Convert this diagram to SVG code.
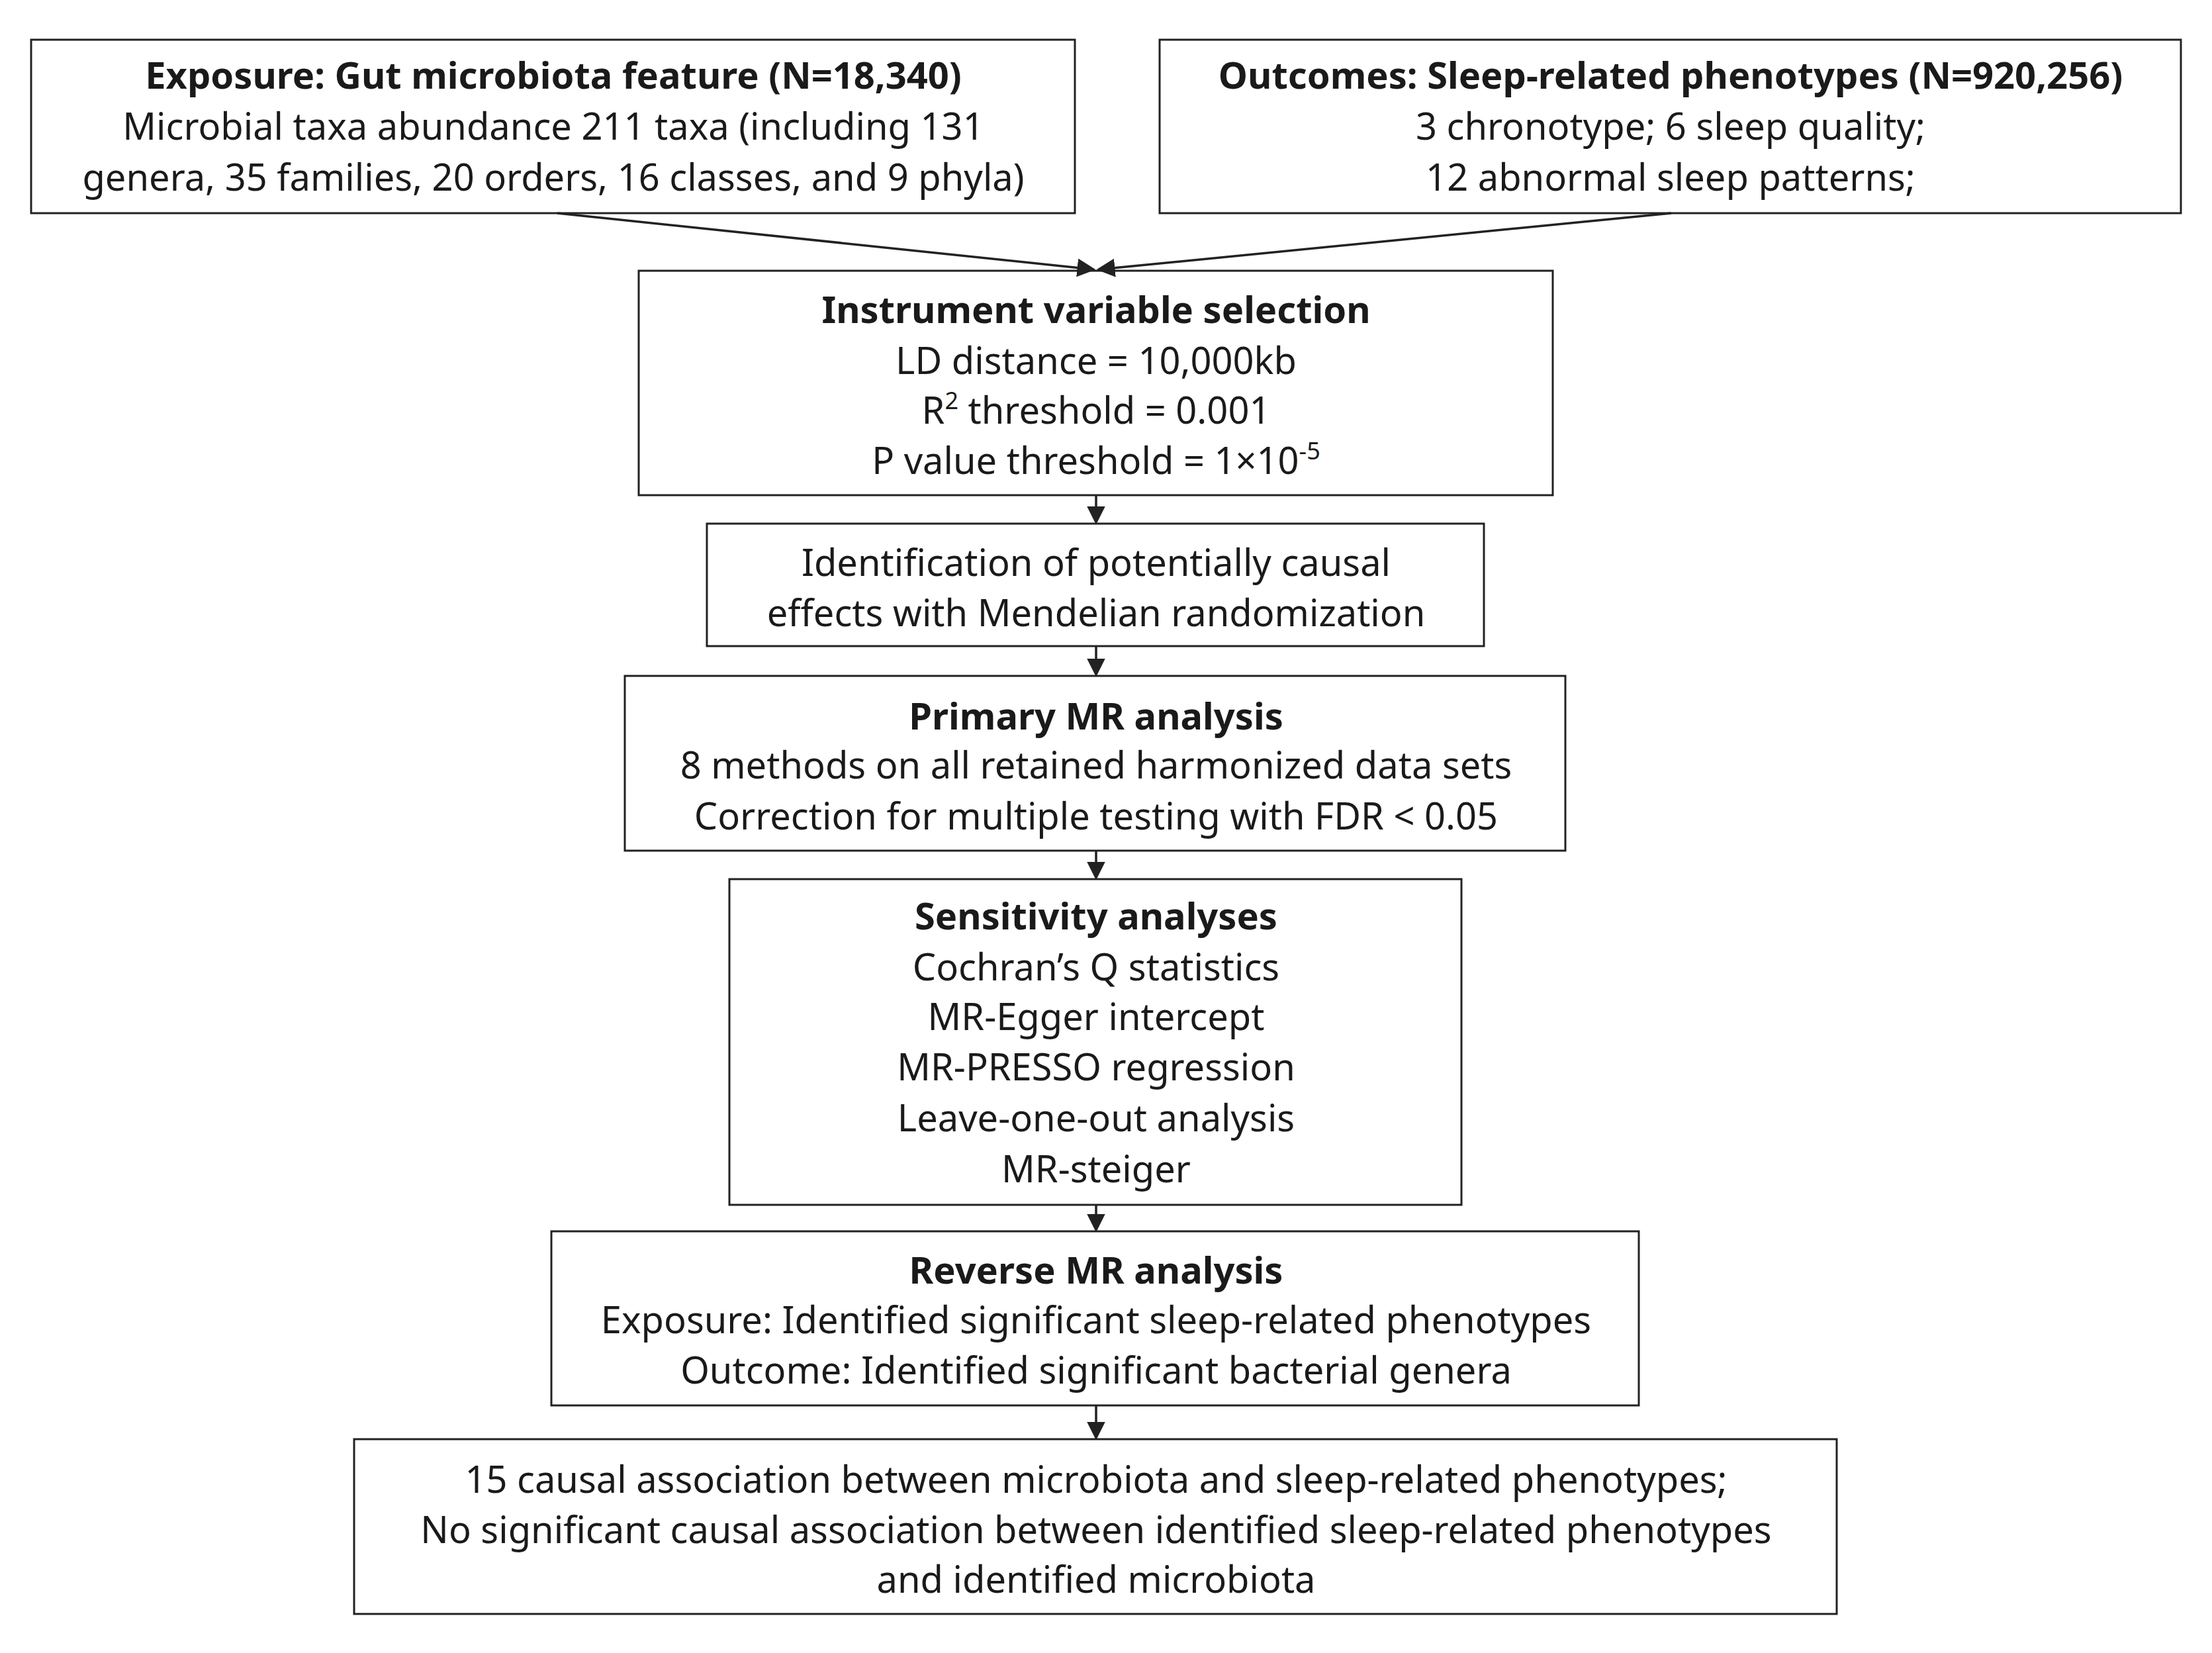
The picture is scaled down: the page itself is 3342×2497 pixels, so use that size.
<svg xmlns="http://www.w3.org/2000/svg" width="3342" height="2497" viewBox="0 0 3342 2497">
<style>
rect{fill:#fff;stroke:#222;stroke-width:3}
text{font-family:"Noto Sans","DejaVu Sans",sans-serif;font-size:56px;fill:#1a1a1a;text-anchor:middle}
.b{font-weight:bold}
line{stroke:#222;stroke-width:3.5;marker-end:url(#a)}
</style>
<defs><marker id="a" markerWidth="8" markerHeight="8" refX="7" refY="4" orient="auto" markerUnits="strokeWidth"><path d="M0,0L8,4L0,8z" fill="#222"/></marker></defs>
<rect width="3342" height="2497" style="stroke:none"/>
<g id="exposure"><rect x="47" y="60" width="1577" height="262"/>
<text x="836" y="134" class="b">Exposure: Gut microbiota feature (N=18,340)</text>
<text x="836" y="211">Microbial taxa abundance 211 taxa (including 131</text>
<text x="836" y="288">genera, 35 families, 20 orders, 16 classes, and 9 phyla)</text></g>
<g id="outcomes"><rect x="1752" y="60" width="1543" height="262"/>
<text x="2524" y="134" class="b">Outcomes: Sleep-related phenotypes (N=920,256)</text>
<text x="2524" y="211">3 chronotype; 6 sleep quality;</text>
<text x="2524" y="288">12 abnormal sleep patterns;</text></g>
<g id="iv"><rect x="965" y="409" width="1381" height="339"/>
<text x="1656" y="488" class="b">Instrument variable selection</text>
<text x="1656" y="565">LD distance = 10,000kb</text>
<text x="1656" y="640">R<tspan font-size="36" dy="-22">2</tspan><tspan dy="22"> threshold = 0.001</tspan></text>
<text x="1656" y="716">P value threshold = 1×10<tspan font-size="36" dy="-22">-5</tspan></text></g>
<g id="ident"><rect x="1068" y="791" width="1174" height="185"/>
<text x="1656" y="870">Identification of potentially causal</text>
<text x="1656" y="946">effects with Mendelian randomization</text></g>
<g id="primary"><rect x="944" y="1021" width="1421" height="264"/>
<text x="1656" y="1102" class="b">Primary MR analysis</text>
<text x="1656" y="1176">8 methods on all retained harmonized data sets</text>
<text x="1656" y="1253">Correction for multiple testing with FDR &lt; 0.05</text></g>
<g id="sens"><rect x="1102" y="1328" width="1106" height="492"/>
<text x="1656" y="1404" class="b">Sensitivity analyses</text>
<text x="1656" y="1481">Cochran’s Q statistics</text>
<text x="1656" y="1556">MR-Egger intercept</text>
<text x="1656" y="1632">MR-PRESSO regression</text>
<text x="1656" y="1709">Leave-one-out analysis</text>
<text x="1656" y="1786">MR-steiger</text></g>
<g id="reverse"><rect x="833" y="1860" width="1643" height="263"/>
<text x="1656" y="1939" class="b">Reverse MR analysis</text>
<text x="1656" y="2014">Exposure: Identified significant sleep-related phenotypes</text>
<text x="1656" y="2090">Outcome: Identified significant bacterial genera</text></g>
<g id="result"><rect x="535" y="2174" width="2240" height="264"/>
<text x="1656" y="2255">15 causal association between microbiota and sleep-related phenotypes;</text>
<text x="1656" y="2331">No significant causal association between identified sleep-related phenotypes</text>
<text x="1656" y="2406">and identified microbiota</text></g>
<g id="connectors">
<line x1="842" y1="322" x2="1652" y2="407"/>
<line x1="2525" y1="322" x2="1660" y2="407"/>
<line x1="1656" y1="748" x2="1656" y2="789"/>
<line x1="1656" y1="976" x2="1656" y2="1019"/>
<line x1="1656" y1="1285" x2="1656" y2="1326"/>
<line x1="1656" y1="1820" x2="1656" y2="1858"/>
<line x1="1656" y1="2123" x2="1656" y2="2172"/>
</g>
</svg>
